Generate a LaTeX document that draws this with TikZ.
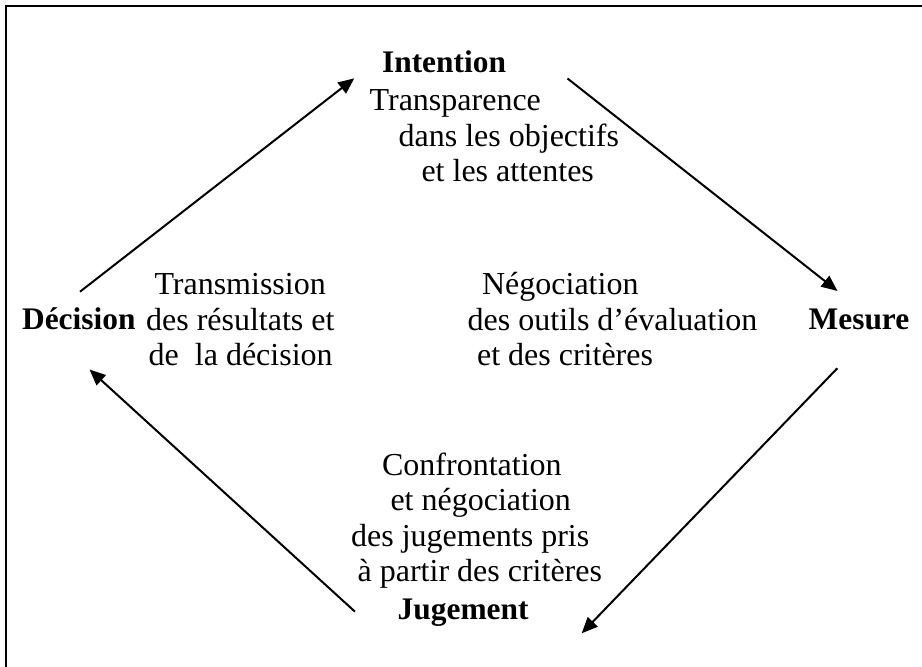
\documentclass[tikz,border=0pt]{standalone}
\usepackage{fontspec}
\setmainfont{Liberation Serif}
\usetikzlibrary{arrows.meta}

\begin{document}
\begin{tikzpicture}[
						x=0.5pt, y=-0.5pt,
						every node/.style = {inner sep=0pt, anchor=base west, font=\fontsize{16}{17.8}\selectfont},
						pole/.style = {font=\fontsize{15.7}{17.8}\selectfont\bfseries},
						note/.style = {align=left},
						flow/.style = {-{Triangle[length=8pt, width=6.8pt]}, line width=1pt}
					]
\useasboundingbox (0,0) rectangle (922,667);
\draw[line width=1pt] (6,6) rectangle (980,720);

% the four poles
\node[pole] (int) at (381.7,73) {Intention};
\node[pole] (mes) at (808.3,330) {Mesure};
\node[pole] (jug) at (397.3,620) {Jugement};
\node[pole] (dec) at (21.7,330) {Décision};

% texts beside each pole (placed by the baseline of their last line)
\node[note] (trans) at (369.3,182) {Transparence\\
	\hspace*{14.5pt}dans les objectifs\\
	\hspace*{25.9pt}et les attentes};
\node[note] (nego) at (467.3,366) {\hspace*{7.2pt}Négociation\\
	des outils d’évaluation\\
	\hspace*{4.7pt}et des critères};
\node[note] (confr) at (350.7,582) {\hspace*{15.5pt}Confrontation\\
	\hspace*{19.7pt}et négociation\\
	des jugements pris\\
	\hspace*{3.3pt}à partir des critères};
\node[note] (transm) at (145.7,366) {\hspace*{4.2pt}Transmission\\
	des résultats et\\
	\hspace*{1.3pt}de\ \ la décision};

% arrow ends
\coordinate (dec-top) at (80,291.7);
\coordinate (int-left) at (354.3,78.3);
\coordinate (int-right) at (567.5,78.5);
\coordinate (mes-top) at (837.5,291);
\coordinate (mes-bot) at (837.3,368.3);
\coordinate (jug-right) at (581.7,633.3);
\coordinate (jug-left) at (355,611.7);
\coordinate (dec-bot) at (89.5,369.5);

\draw[flow] (dec-top) -- (int-left);
\draw[flow] (int-right) -- (mes-top);
\draw[flow] (mes-bot) -- (jug-right);
\draw[flow] (jug-left) -- (dec-bot);
\end{tikzpicture}
\end{document}
